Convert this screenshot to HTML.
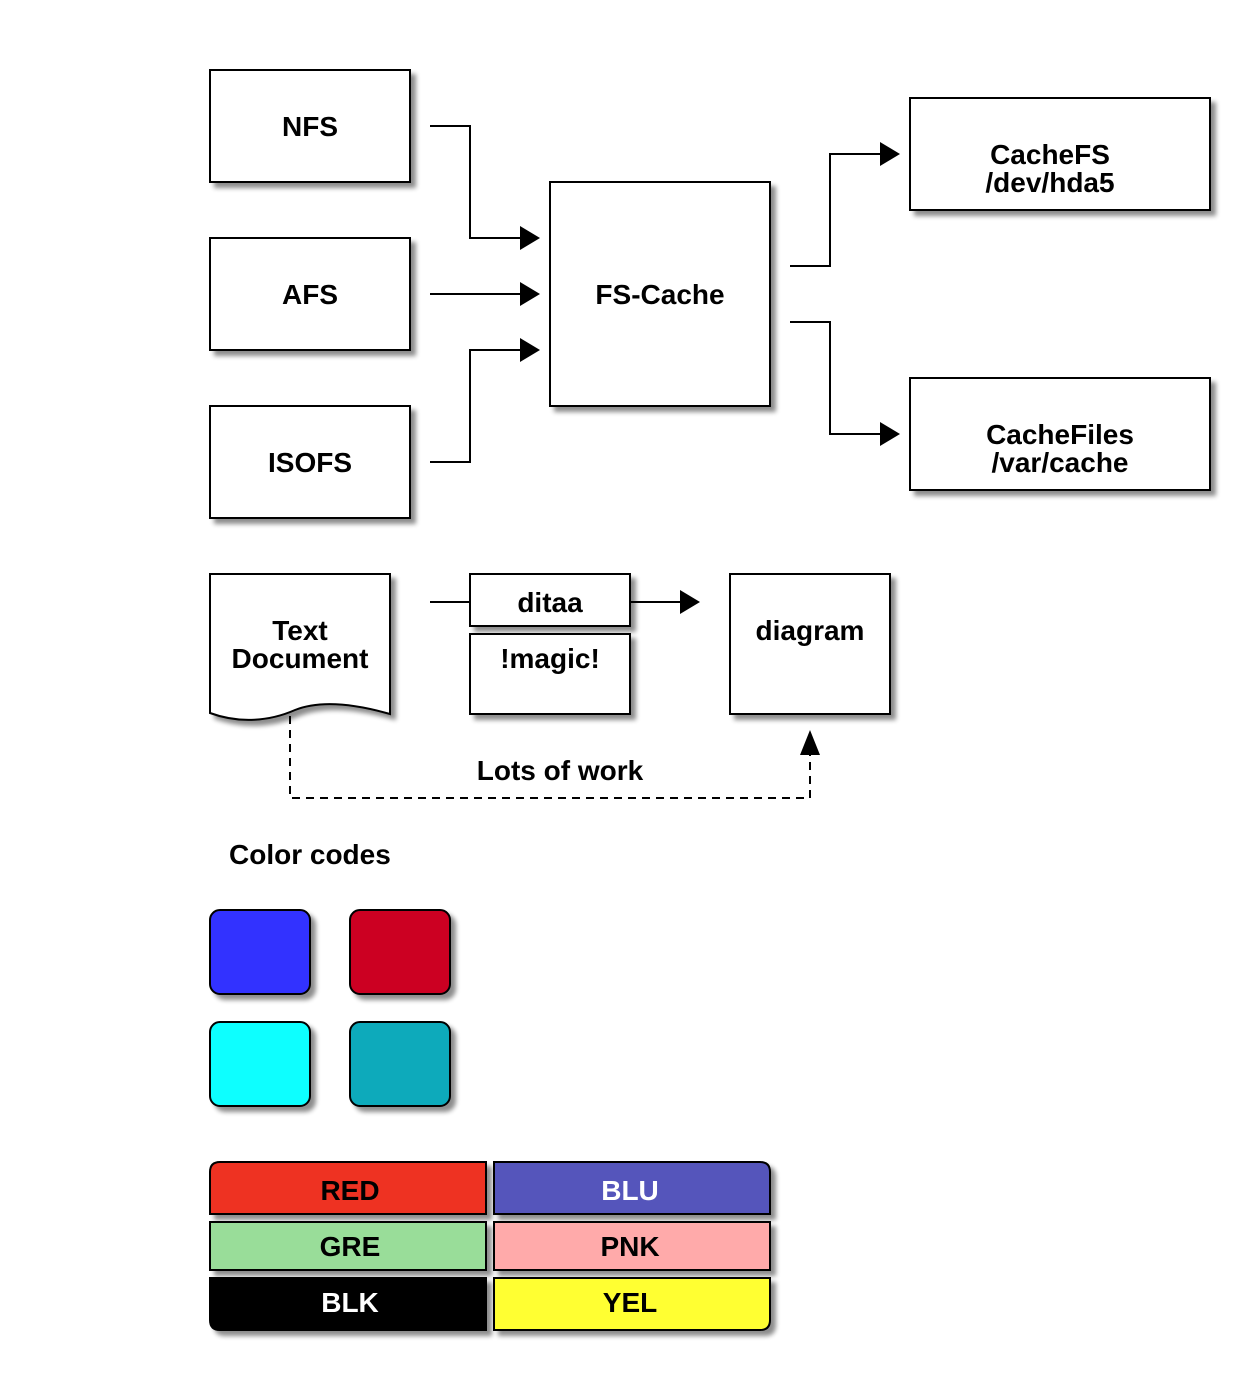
<!DOCTYPE html>
<html><head><meta charset="utf-8"><style>body{margin:0;background:#fff}svg{display:block}text{font-family:"Liberation Sans",sans-serif;font-weight:bold;font-size:28px;text-anchor:middle}</style></head><body>
<svg width="1260" height="1400" viewBox="0 0 1260 1400" xmlns="http://www.w3.org/2000/svg">
<defs><filter id="sh" x="-10%" y="-10%" width="130%" height="130%"><feGaussianBlur in="SourceAlpha" stdDeviation="2.5"/><feOffset dx="5" dy="5"/><feComponentTransfer><feFuncA type="linear" slope="0.45"/></feComponentTransfer><feMerge><feMergeNode/><feMergeNode in="SourceGraphic"/></feMerge></filter></defs>
<g stroke="#000" stroke-width="2" fill="#fff" filter="url(#sh)">
<rect x="210" y="70" width="200" height="112"/>
<rect x="210" y="238" width="200" height="112"/>
<rect x="210" y="406" width="200" height="112"/>
<rect x="550" y="182" width="220" height="224"/>
<rect x="910" y="98" width="300" height="112"/>
<rect x="910" y="378" width="300" height="112"/>
<path d="M210,574 H390 V714 C355,704 320,700 295,710 C270,721 240,724 210,713 Z"/>
<rect x="470" y="574" width="160" height="52"/>
<rect x="470" y="634" width="160" height="80"/>
<rect x="730" y="574" width="160" height="140"/>
<rect x="210" y="910" width="100" height="84" rx="10" fill="#3333ff"/>
<rect x="350" y="910" width="100" height="84" rx="10" fill="#cc0022"/>
<rect x="210" y="1022" width="100" height="84" rx="10" fill="#11ffff"/>
<rect x="350" y="1022" width="100" height="84" rx="10" fill="#11aabb"/>
<path d="M220,1162 H486 V1214 H210 V1172 Q210,1162 220,1162Z" fill="#ee3322"/>
<path d="M494,1162 H760 Q770,1162 770,1172 V1214 H494Z" fill="#5555bb"/>
<rect x="210" y="1222" width="276" height="48" fill="#99dd99"/>
<rect x="494" y="1222" width="276" height="48" fill="#ffaaaa"/>
<path d="M210,1278 H486 V1330 H220 Q210,1330 210,1320Z" fill="#000"/>
<path d="M494,1278 H770 V1320 Q770,1330 760,1330 H494Z" fill="#ffff33"/>
</g>
<g stroke="#000" stroke-width="2" fill="none">
<path d="M430,126 H470 V238 H522"/>
<path d="M430,294 H522"/>
<path d="M430,462 H470 V350 H522"/>
<path d="M790,266 H830 V154 H882"/>
<path d="M790,322 H830 V434 H882"/>
<path d="M430,602 H470 M630,602 H682"/>
<path d="M290,716 V798 H810 V752" stroke-dasharray="8,6"/>
</g>
<g fill="#000">
<path d="M540,238 L520,226 V250Z"/><path d="M540,294 L520,282 V306Z"/><path d="M540,350 L520,338 V362Z"/>
<path d="M900,154 L880,142 V166Z"/><path d="M900,434 L880,422 V446Z"/>
<path d="M700,602 L680,590 V614Z"/>
<path d="M810,730 L800,755 H820Z"/>
</g>
<text x="310" y="136">NFS</text>
<text x="310" y="304">AFS</text>
<text x="310" y="472">ISOFS</text>
<text x="660" y="304">FS-Cache</text>
<text x="1050" y="164">CacheFS</text><text x="1050" y="192">/dev/hda5</text>
<text x="1060" y="444">CacheFiles</text><text x="1060" y="472">/var/cache</text>
<text x="300" y="640">Text</text><text x="300" y="668">Document</text>
<text x="550" y="612">ditaa</text>
<text x="550" y="668">!magic!</text>
<text x="810" y="640">diagram</text>
<text x="560" y="780">Lots of work</text>
<text x="229" y="864" style="text-anchor:start">Color codes</text>
<text x="350" y="1200">RED</text>
<text x="630" y="1200" fill="#fff">BLU</text>
<text x="350" y="1256">GRE</text>
<text x="630" y="1256">PNK</text>
<text x="350" y="1312" fill="#fff">BLK</text>
<text x="630" y="1312">YEL</text>
</svg>
</body></html>
